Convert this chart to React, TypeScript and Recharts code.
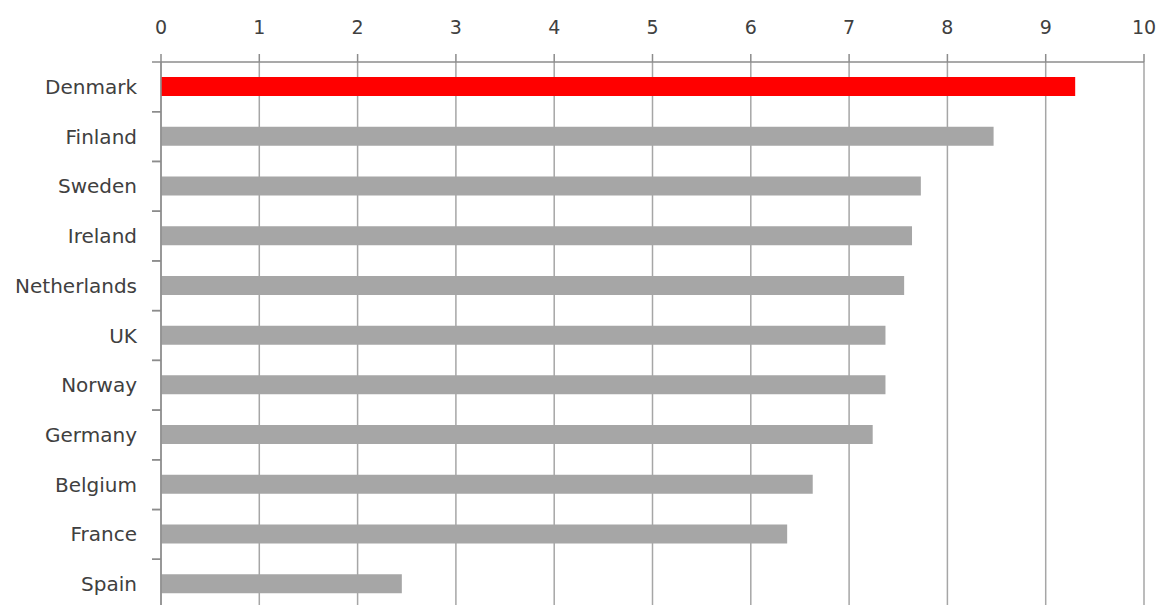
import { Bar, BarChart, CartesianGrid, Cell, XAxis, YAxis } from "recharts";

const countries = [
  "Denmark",
  "Finland",
  "Sweden",
  "Ireland",
  "Netherlands",
  "UK",
  "Norway",
  "Germany",
  "Belgium",
  "France",
  "Spain",
];
const scores = [9.3, 8.47, 7.73, 7.64, 7.56, 7.37, 7.37, 7.24, 6.63, 6.37, 2.45];
const scaleTicks = [0, 1, 2, 3, 4, 5, 6, 7, 8, 9, 10];
const highlight = "Denmark";

const data = countries.map((name, i) => ({ name, score: scores[i] }));

const W = 1162;
const H = 615;
const MARGIN = { top: 22, right: 18, bottom: 6, left: 21 };
const X_AXIS_H = 40;
const Y_AXIS_W = 140;
const AXIS_X = MARGIN.left + Y_AXIS_W;
const PLOT_H = H - MARGIN.top - X_AXIS_H - MARGIN.bottom;
const BAND = PLOT_H / countries.length;

const TEXT = "#404040";
const GRID = "#a6a6a6";
const AXIS = "#8c8c8c";
const FONT = "DejaVu Sans, Verdana, sans-serif";

// category labels sit in the band centre, tick marks on the band edges
function CountryTick(props: any) {
  const { y, payload } = props;
  const top = y - BAND / 2;
  return (
    <g>
      <line x1={AXIS_X - 9} x2={AXIS_X} y1={top} y2={top} stroke={AXIS} strokeWidth={1.5} />
      <line x1={AXIS_X - 9} x2={AXIS_X} y1={top + BAND} y2={top + BAND} stroke={AXIS} strokeWidth={1.5} />
      <text
        x={AXIS_X - 24}
        y={y}
        textAnchor="end"
        dominantBaseline="central"
        fill={TEXT}
        fontSize={20}
        fontFamily={FONT}
      >
        {payload.value}
      </text>
    </g>
  );
}

export default function App() {
  return (
    <div
      style={{
        position: "fixed",
        top: 0,
        left: 0,
        width: W,
        height: 605,
        overflow: "hidden",
        background: "#fff",
      }}
    >
      <BarChart width={W} height={H} data={data} layout="vertical" margin={MARGIN} barSize={19}>
        <CartesianGrid horizontal={false} stroke={GRID} strokeWidth={1.5} />
        <XAxis
          type="number"
          orientation="top"
          domain={[0, 10]}
          ticks={scaleTicks}
          height={X_AXIS_H}
          tickSize={8}
          tickMargin={20}
          axisLine={{ stroke: AXIS, strokeWidth: 1.5 }}
          tickLine={{ stroke: AXIS, strokeWidth: 1.5 }}
          tick={{ fill: TEXT, fontSize: 19, fontFamily: FONT }}
        />
        <YAxis
          type="category"
          dataKey="name"
          width={Y_AXIS_W}
          axisLine={{ stroke: AXIS, strokeWidth: 1.5 }}
          tickLine={false}
          interval={0}
          tick={<CountryTick />}
        />
        <Bar dataKey="score" isAnimationActive={false}>
          {data.map((d) => (
            <Cell key={d.name} fill={d.name === highlight ? "#ff0000" : "#a6a6a6"} />
          ))}
        </Bar>
      </BarChart>
    </div>
  );
}
